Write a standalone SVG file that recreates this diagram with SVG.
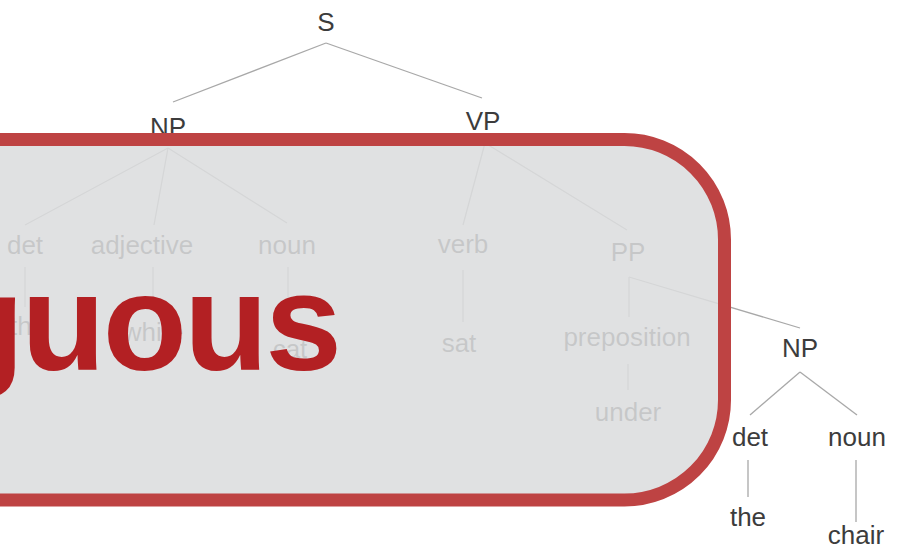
<svg xmlns="http://www.w3.org/2000/svg" width="897" height="548" viewBox="0 0 897 548">
<style>
.lbl{font-family:"Liberation Sans",Arial,sans-serif;font-size:26px;fill:#3c3c3c;text-anchor:middle}
.edge{stroke:#a8a8a8;stroke-width:1.3;fill:none}
.big{font-family:"Liberation Sans",Arial,sans-serif;font-size:138px;font-weight:bold;fill:#b32023;text-anchor:end;letter-spacing:-3px}
</style>
<rect width="897" height="548" fill="#ffffff"/>
<g id="connectors">
<line class="edge" x1="326" y1="43" x2="173" y2="102"/>
<line class="edge" x1="326" y1="43" x2="482" y2="98"/>
<line class="edge" x1="168" y1="148" x2="25" y2="225"/>
<line class="edge" x1="168" y1="148" x2="154" y2="225"/>
<line class="edge" x1="168" y1="148" x2="287" y2="223"/>
<line class="edge" x1="25" y1="267" x2="25" y2="307"/>
<line class="edge" x1="153" y1="267" x2="153" y2="310"/>
<line class="edge" x1="288" y1="267" x2="288" y2="322"/>
<line class="edge" x1="485" y1="143" x2="463" y2="225"/>
<line class="edge" x1="485" y1="143" x2="627" y2="230"/>
<line class="edge" x1="463" y1="270" x2="463" y2="322"/>
<line class="edge" x1="629" y1="277" x2="629" y2="317"/>
<line class="edge" x1="629" y1="277" x2="800" y2="328"/>
<line class="edge" x1="628" y1="364" x2="628" y2="390"/>
<line class="edge" x1="800" y1="372" x2="750" y2="415"/>
<line class="edge" x1="800" y1="372" x2="857" y2="415"/>
<line class="edge" x1="748" y1="460" x2="748" y2="497"/>
<line class="edge" x1="856" y1="460" x2="856" y2="522"/>
</g>
<g id="n-S"><text class="lbl" x="326" y="31">S</text></g>
<g id="n-NP1"><text class="lbl" x="168" y="136">NP</text></g>
<g id="n-VP"><text class="lbl" x="483" y="130">VP</text></g>
<g id="n-det1"><text class="lbl" x="25" y="254">det</text></g>
<g id="n-adjective"><text class="lbl" x="142" y="254">adjective</text></g>
<g id="n-noun1"><text class="lbl" x="287" y="254">noun</text></g>
<g id="n-the1"><text class="lbl" x="28" y="335">the</text></g>
<g id="n-white"><text class="lbl" x="153" y="341">white</text></g>
<g id="n-cat"><text class="lbl" x="290" y="358">cat</text></g>
<g id="n-verb"><text class="lbl" x="463" y="253">verb</text></g>
<g id="n-sat"><text class="lbl" x="459" y="352">sat</text></g>
<g id="n-PP"><text class="lbl" x="628" y="261">PP</text></g>
<g id="n-preposition"><text class="lbl" x="627" y="346">preposition</text></g>
<g id="n-under"><text class="lbl" x="628" y="421">under</text></g>
<g id="n-NP2"><text class="lbl" x="800" y="357">NP</text></g>
<g id="n-det2"><text class="lbl" x="750" y="446">det</text></g>
<g id="n-noun2"><text class="lbl" x="857" y="446">noun</text></g>
<g id="n-the2"><text class="lbl" x="748" y="526">the</text></g>
<g id="n-chair"><text class="lbl" x="856" y="544">chair</text></g>
<g id="overlay">
<rect x="-150" y="139.5" width="874.5" height="360.5" rx="100" ry="100" fill="#dbdcde" fill-opacity="0.87" stroke="#be4343" stroke-width="13"/>
<text class="big" x="339" y="370">guous</text>
</g>
</svg>
